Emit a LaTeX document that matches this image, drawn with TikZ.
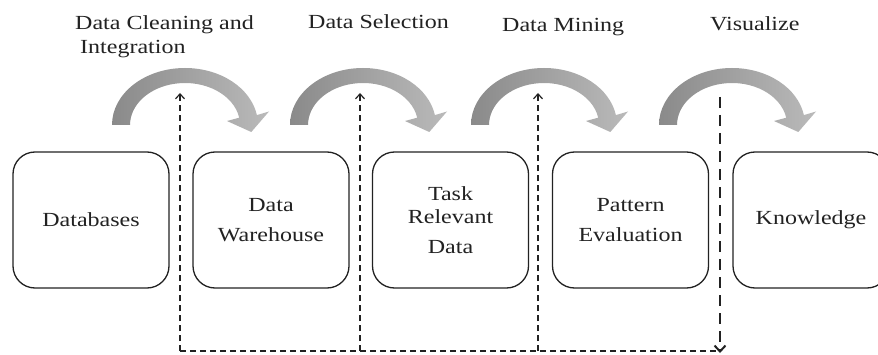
\documentclass[tikz,border=0pt]{standalone}
\usepackage{fontspec}
\setmainfont{Liberation Serif}[FakeStretch=1.2]
\usetikzlibrary{arrows.meta}
\definecolor{ink}{HTML}{222222}
\definecolor{arcdark}{HTML}{8A8A8A}
\definecolor{arclight}{HTML}{BABABA}
\tikzset{
  stage/.style={draw=ink, line width=1.3pt, rounded corners=22pt,
    minimum width=156pt, minimum height=136pt, inner sep=0pt,
    text=ink, align=center, font=\fontsize{20}{30}\selectfont},
  steplabel/.style={text=ink, anchor=base west, inner sep=0pt,
    align=left, font=\fontsize{20}{24}\selectfont},
  feedback/.style={draw=ink, line width=1.1pt, dash pattern=on 6pt off 4pt},
  upbarb/.style={-{Straight Barb[length=5pt,width=9pt,line width=1.2pt]}},
  visline/.style={draw=ink, line width=2.8pt, dash pattern=on 11pt off 7pt,
    -{Straight Barb[length=6pt,width=11pt,line width=2pt]}},
  flowarc/.style={left color=arcdark, right color=arclight, draw=none}
}
% one curved grey process arrow, centred at #1
\newcommand{\flowarrow}[1]{%
  \begin{scope}[shift={#1}]
    \shade[flowarc] (-73,0)
      arc[start angle=180, end angle=10, x radius=73pt, y radius=57pt]
      -- (84,13.5) -- (66.3,-7) -- (42,4) -- (54.2,7.3)
      arc[start angle=10, end angle=180, x radius=55pt, y radius=42pt]
      -- cycle;
  \end{scope}}
\begin{document}
\begin{tikzpicture}[x=1pt, y=1pt]
  \useasboundingbox (0,0) rectangle (878,354);
  \clip (0,0) rectangle (878,354);
  \fill[white] (0,0) rectangle (878,354);

  % stages of the process
  \node[stage] (db)  at (91,134)    {Databases};
  \node[stage] (dw)  at (271,134)   {Data\\Warehouse};
  \node[stage] (trd) at (450.5,134) {Task\\[-7pt]Relevant\\Data};
  \node[stage] (pe)  at (630.5,134) {Pattern\\Evaluation};
  \node[stage] (kn)  at (811,134)   {Knowledge};

  % step names
  \node[steplabel] (l1) at (75,300)  {Data Cleaning and\\\hspace{5pt}Integration};
  \node[steplabel] (l2) at (308,325) {Data Selection};
  \node[steplabel] (l3) at (502,322) {Data Mining};
  \node[steplabel] (l4) at (710,323) {Visualize};

  % curved arrows between stages
  \flowarrow{(185,229)}
  \flowarrow{(363,229)}
  \flowarrow{(544,229)}
  \flowarrow{(732,229)}

  % feedback loop
  \coordinate (h1) at (180,3);
  \coordinate (h2) at (360,3);
  \coordinate (h3) at (538,3);
  \coordinate (hk) at (716,3);
  \coordinate (u1) at (180,261);
  \coordinate (u2) at (360,261);
  \coordinate (u3) at (538,261);
  \coordinate (vk) at (720,257);
  \coordinate (tk) at (720,1);

  \draw[feedback] (h1) -- (hk);
  \draw[feedback, upbarb] (h1) -- (u1);
  \draw[feedback, upbarb] (h2) -- (u2);
  \draw[feedback, upbarb] (h3) -- (u3);
  \draw[visline] (vk) -- (tk);
\end{tikzpicture}
\end{document}
